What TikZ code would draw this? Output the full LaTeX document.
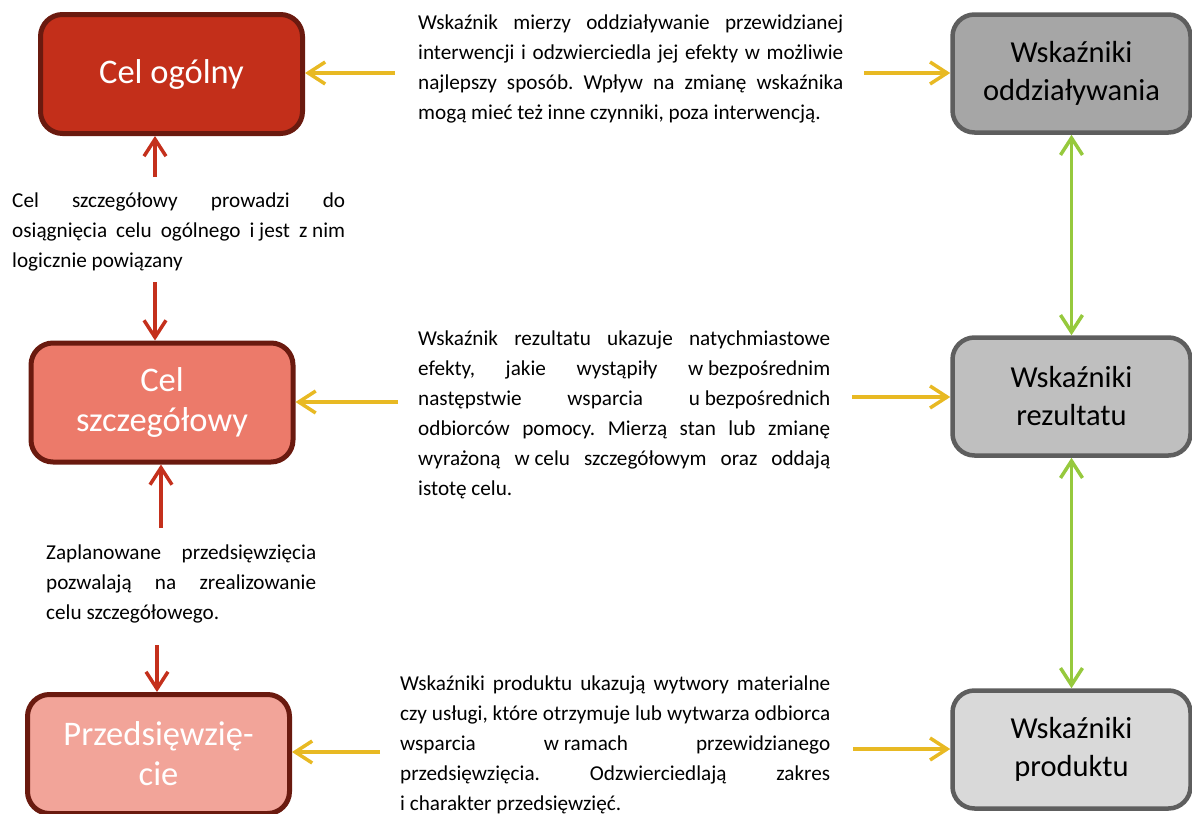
\documentclass[tikz,border=0pt]{standalone}
\usepackage{fontspec}
\setmainfont{Carlito}
\usepackage{tikz}
\usetikzlibrary{positioning}
\usetikzlibrary{arrows.meta}

\definecolor{celdark}{HTML}{6A1A0F}
\definecolor{celone}{HTML}{C32F1A}
\definecolor{celtwo}{HTML}{EC7A6A}
\definecolor{celthree}{HTML}{F2A499}
\definecolor{wskdark}{HTML}{5E5E5E}
\definecolor{wskone}{HTML}{A6A6A6}
\definecolor{wsktwo}{HTML}{BFBFBF}
\definecolor{wskthree}{HTML}{D9D9D9}
\definecolor{redarrow}{HTML}{C4301C}
\definecolor{yelarrow}{HTML}{E8B923}
\definecolor{grnarrow}{HTML}{96C93D}

\frenchspacing
\hyphenpenalty=10000
\tolerance=9999

\begin{document}
\begin{tikzpicture}[x=1pt,y=-1pt,
        celbox/.style={draw=celdark,line width=5pt,rounded corners=22pt,minimum width=262pt,minimum height=119pt,
            text=white,align=center,font=\fontsize{34.5}{40}\selectfont},
        wskbox/.style={draw=wskdark,line width=4.5pt,rounded corners=22pt,minimum width=238pt,minimum height=118pt,
            text=black,align=center,font=\fontsize{30.5}{38}\selectfont},
        opis/.style={anchor=north west,inner sep=0pt,align=justify,font=\fontsize{21.2}{30}\selectfont},
        redarr/.style={draw=redarrow,line width=3.5pt,-{Straight Barb[length=17pt,width=22pt]}},
        yelarr/.style={draw=yelarrow,line width=3.5pt,-{Straight Barb[length=17pt,width=22pt]}},
        grnarr/.style={draw=grnarrow,line width=3.5pt,{Straight Barb[length=17pt,width=22pt]}-{Straight Barb[length=17pt,width=22pt]}}]
            \useasboundingbox (0,0) rectangle (1192,814);

            % left column
            \node [celbox,fill=celone](celogolny) at (171.5,74) {Cel ogólny};
            \node [celbox,fill=celtwo](celszcz) at (162,402.5) {Cel\\szczegółowy};
            \node [celbox,fill=celthree](przeds) at (158.5,754) {Przedsięwzię-\\cie};

            % right column
            \node [wskbox,fill=wskone](oddz) at (1071.5,73.5) {Wskaźniki\\oddziaływania};
            \node [wskbox,fill=wsktwo](rez) at (1071.5,396.5) {Wskaźniki\\rezultatu};
            \node [wskbox,fill=wskthree](prod) at (1071.5,749.5) {Wskaźniki\\produktu};

            % descriptions
            \node [opis,text width=333pt](opiscel) at (12,193) {Cel szczegółowy prowadzi do\linebreak
                osiągnięcia celu ogólnego \mbox{i jest} \mbox{z nim}\linebreak logicznie powiązany};
            \node [opis,text width=270pt](opisprz) at (46,545) {Zaplanowane przedsięwzięcia\linebreak
                pozwalają na zrealizowanie\linebreak celu szczegółowego.};
            \node [opis,text width=425pt](opisodd) at (418,15) {Wskaźnik mierzy oddziaływanie przewidzianej\linebreak
                interwencji i odzwierciedla jej efekty w możliwie\linebreak
                najlepszy sposób. Wpływ na zmianę wskaźnika\linebreak
                mogą mieć też inne czynniki, poza interwencją.};
            \node [opis,text width=412pt](opisrez) at (418,331) {Wskaźnik rezultatu ukazuje natychmiastowe\linebreak
                efekty, jakie wystąpiły \mbox{w bezpośrednim}\linebreak
                następstwie wsparcia \mbox{u bezpośrednich}\linebreak
                odbiorców pomocy. Mierzą stan lub zmianę\linebreak
                wyrażoną \mbox{w celu} szczegółowym oraz oddają\linebreak
                istotę celu.};
            \node [opis,text width=430pt](opisprod) at (400,676) {Wskaźniki produktu ukazują wytwory materialne\linebreak
                czy usługi, które otrzymuje lub wytwarza odbiorca\linebreak
                wsparcia \mbox{w ramach} przewidzianego\linebreak
                przedsięwzięcia. Odzwierciedlają zakres\linebreak
                i charakter przedsięwzięć.};

            % arrow ends
            \coordinate (r1) at (155,177);
            \coordinate (r2) at (155,282);
            \coordinate (r3) at (161,528);
            \coordinate (r4) at (157,645);
            \coordinate (y1) at (395,73);
            \coordinate (y2) at (864,73);
            \coordinate (y3) at (398,402);
            \coordinate (y4) at (852,397);
            \coordinate (y5) at (380,752);
            \coordinate (y6) at (853,749);

            \draw[redarr] (r1) -- (r1 |- celogolny.south);
            \draw[redarr] (r2) -- (r2 |- celszcz.north);
            \draw[redarr] (r3) -- (r3 |- celszcz.south);
            \draw[redarr] (r4) -- (r4 |- przeds.north);

            \draw[yelarr] (y1) -- (y1 -| celogolny.east);
            \draw[yelarr] (y2) -- (y2 -| oddz.west);
            \draw[yelarr] (y3) -- (y3 -| celszcz.east);
            \draw[yelarr] (y4) -- (y4 -| rez.west);
            \draw[yelarr] (y5) -- (y5 -| przeds.east);
            \draw[yelarr] (y6) -- (y6 -| prod.west);

            \draw[grnarr] (oddz.south) -- (rez.north);
            \draw[grnarr] (rez.south) -- (prod.north);
        \end{tikzpicture}
\end{document}
